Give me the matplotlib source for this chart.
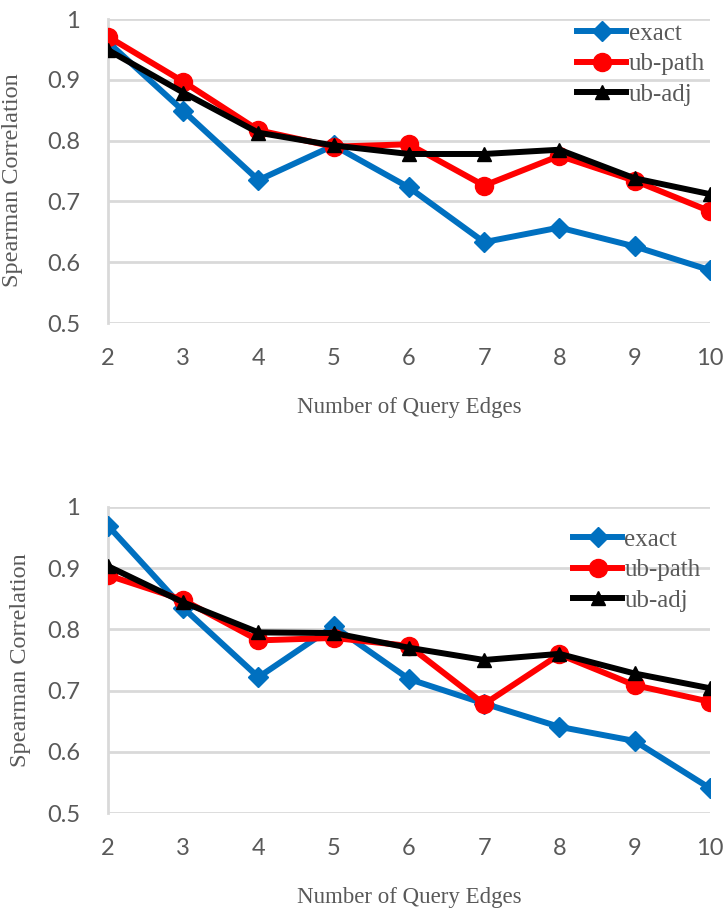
import matplotlib as mpl
mpl.use("Agg")

import matplotlib.pyplot as plt
from matplotlib.ticker import FixedLocator, FuncFormatter

# Spearman correlation vs. number of query edges (two panels)
edges = [2, 3, 4, 5, 6, 7, 8, 9, 10]

top_exact = [0.962, 0.849, 0.735, 0.792, 0.723, 0.633, 0.657, 0.626, 0.587]
top_ub_path = [0.971, 0.897, 0.817, 0.790, 0.794, 0.726, 0.775, 0.734, 0.684]
top_ub_adj = [0.949, 0.879, 0.813, 0.792, 0.778, 0.778, 0.785, 0.738, 0.712]

bottom_exact = [0.969, 0.835, 0.722, 0.805, 0.719, 0.679, 0.641, 0.618, 0.541]
bottom_ub_path = [0.888, 0.848, 0.782, 0.786, 0.773, 0.678, 0.759, 0.709, 0.682]
bottom_ub_adj = [0.903, 0.844, 0.795, 0.794, 0.770, 0.750, 0.760, 0.728, 0.704]

y_ticks = [0.5, 0.6, 0.7, 0.8, 0.9, 1.0]

BLUE = "#0070C0"
RED = "#FF0000"
BLACK = "#000000"
GRID = "#D9D9D9"
TEXT = "#595959"

TICK_FONT = "Lato"
LABEL_FONT = "Liberation Serif"


def fmt_y(v, _pos):
    return "1" if abs(v - 1.0) < 1e-9 else f"{v:.1f}"


def draw_panel(ax, exact, ub_path, ub_adj, legend_anchor, ylabel_xy):
    ax.plot(edges, exact, color=BLUE, lw=4.3, marker="D", ms=10,
            label="exact", zorder=3)
    ax.plot(edges, ub_path, color=RED, lw=4.3, marker="o", ms=13,
            label="ub-path", zorder=4)
    ax.plot(edges, ub_adj, color=BLACK, lw=4.3, marker="^", ms=10,
            label="ub-adj", zorder=5)

    ax.set_xlim(2, 10)
    ax.set_ylim(0.5, 1.0)
    ax.xaxis.set_major_locator(FixedLocator(edges))
    ax.yaxis.set_major_locator(FixedLocator(y_ticks))
    ax.yaxis.set_major_formatter(FuncFormatter(fmt_y))
    ax.grid(axis="y", color=GRID, lw=2.0, zorder=0)
    ax.set_axisbelow(True)

    for side in ("top", "right", "bottom"):
        ax.spines[side].set_visible(False)
    ax.spines["left"].set_color(GRID)
    ax.spines["left"].set_linewidth(2.0)

    ax.tick_params(length=0, labelsize=17, labelcolor=TEXT)
    ax.tick_params(axis="y", pad=20)
    ax.tick_params(axis="x", pad=18)
    for lab in ax.get_xticklabels() + ax.get_yticklabels():
        lab.set_fontfamily(TICK_FONT)

    ax.set_xlabel("Number of Query Edges", fontfamily=LABEL_FONT,
                  fontsize=16.5, color=TEXT, labelpad=20)
    ax.set_ylabel("Spearman Correlation", fontfamily=LABEL_FONT,
                  fontsize=17.5, color=TEXT)
    ax.yaxis.set_label_coords(*ylabel_xy)

    leg = ax.legend(loc="upper left", bbox_to_anchor=legend_anchor,
                    frameon=False, prop={"family": LABEL_FONT, "size": 18},
                    handlelength=1.95, handletextpad=0.1, labelspacing=0.33,
                    borderaxespad=0, borderpad=0)
    for t in leg.get_texts():
        t.set_color(TEXT)


def main():
    fig = plt.figure(figsize=(7.25, 9.14), dpi=100)

    ax_top = fig.add_axes([0.149, 0.6466, 0.830, 0.3326])
    draw_panel(ax_top, top_exact, top_ub_path, top_ub_adj,
               legend_anchor=(0.78, 0.99), ylabel_xy=(-0.142, 0.47))

    ax_bot = fig.add_axes([0.149, 0.1102, 0.830, 0.3354])
    draw_panel(ax_bot, bottom_exact, bottom_ub_path, bottom_ub_adj,
               legend_anchor=(0.773, 0.93), ylabel_xy=(-0.128, 0.5))

    fig.savefig("out.png", dpi=100)
    plt.close(fig)


if __name__ == "__main__":
    main()
